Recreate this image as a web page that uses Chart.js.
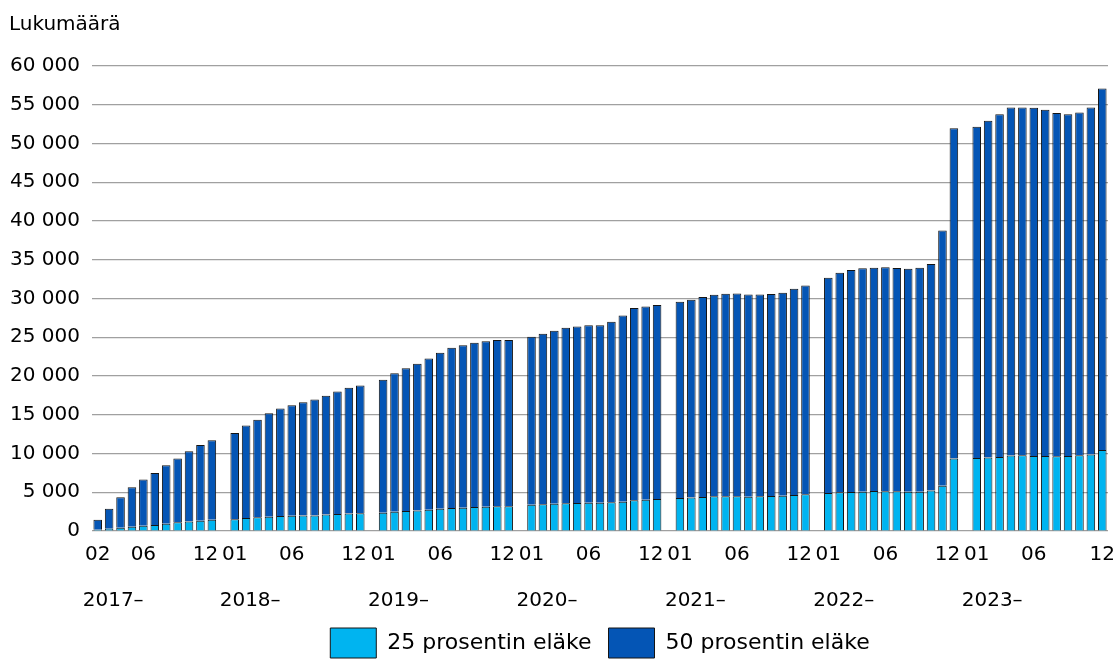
<!DOCTYPE html>
<html><head><meta charset="utf-8">
<script src="https://cdn.jsdelivr.net/npm/chart.js@4"></script>
<style>html,body{margin:0;padding:0;background:#fff}#wrap{width:1118px;height:661px}</style>
</head><body><div id="wrap"><canvas id="c" width="1118" height="661"></canvas></div>
<script>
// ---- Data ----
const years = ['2017', '2018', '2019', '2020', '2021', '2022', '2023'];
const yearTickLabels = ['2017–', '2018–', '2019–', '2020–', '2021–', '2022–', '2023–'];
const months2017 = ['02', '03', '04', '05', '06', '07', '08', '09', '10', '11', '12'];
const monthsFull = ['01', '02', '03', '04', '05', '06', '07', '08', '09', '10', '11', '12'];
const shownMonthTicks = ['06', '12'];

// 25 prosentin eläke
const p25_2017 = [150, 300, 410, 560, 690, 780, 950, 1120, 1220, 1330, 1440];
const p25_2018 = [1530, 1680, 1770, 1850, 1940, 1980, 2000, 2010, 2130, 2200, 2250, 2280];
const p25_2019 = [2360, 2490, 2580, 2660, 2750, 2880, 2970, 3010, 3100, 3140, 3180, 3180];
const p25_2020 = [3400, 3440, 3530, 3570, 3620, 3660, 3660, 3700, 3790, 3960, 4040, 4130];
const p25_2021 = [4260, 4310, 4390, 4470, 4470, 4470, 4430, 4470, 4520, 4560, 4650, 4740];
const p25_2022 = [4910, 4990, 5030, 5080, 5170, 5120, 5120, 5080, 5080, 5210, 5850, 9340];
const p25_2023 = [9430, 9470, 9560, 9730, 9770, 9690, 9690, 9640, 9690, 9770, 9860, 10460];

// 50 prosentin eläke
const p50_2017 = [1310, 2580, 3930, 5070, 5940, 6710, 7530, 8220, 9060, 9780, 10260];
const p50_2018 = [11130, 11920, 12570, 13340, 13860, 14250, 14610, 14950, 15310, 15800, 16230, 16490];
const p50_2019 = [17150, 17870, 18420, 18910, 19510, 20120, 20670, 20970, 21190, 21360, 21450, 21450];
const p50_2020 = [21660, 22010, 22310, 22660, 22780, 22900, 22900, 23300, 24030, 24800, 24940, 25020];
const p50_2021 = [25330, 25530, 25790, 26020, 26150, 26190, 26100, 26060, 26050, 26190, 26620, 26950];
const p50_2022 = [27780, 28340, 28640, 28810, 28810, 28900, 28810, 28770, 28900, 29240, 32910, 42640];
const p50_2023 = [42720, 43450, 44230, 44920, 44880, 44910, 44650, 44310, 44100, 44230, 44790, 46640];

const series25 = [p25_2017, p25_2018, p25_2019, p25_2020, p25_2021, p25_2022, p25_2023];
const series50 = [p50_2017, p50_2018, p50_2019, p50_2020, p50_2021, p50_2022, p50_2023];

// ---- Build category axis (one empty slot between years) ----
const categories = [], monthLabels = [], yearLabels = [], data25 = [], data50 = [];
years.forEach((y, i) => {
  if (i > 0) {
    categories.push('gap ' + years[i - 1] + '/' + y);
    monthLabels.push(''); yearLabels.push('');
    data25.push(null); data50.push(null);
  }
  const ms = i === 0 ? months2017 : monthsFull;
  ms.forEach((m, j) => {
    categories.push(y + '-' + m);
    let lab = '';
    if (j === 0 || shownMonthTicks.includes(m)) lab = m;
    // December before a year gap: nudge left of the following "01"
    if (m === '12' && i < years.length - 1) lab = m + '  ';
    monthLabels.push(lab);
    yearLabels.push(j === 0 ? yearTickLabels[i] : '');
    data25.push(series25[i][j]);
    data50.push(series50[i][j]);
  });
});

const FONT = '"DejaVu Sans", sans-serif';
const fmt = v => String(v).replace(/\B(?=(\d{3})+(?!\d))/g, ' ');

new Chart(document.getElementById('c'), {
  type: 'bar',
  data: {
    labels: categories,
    datasets: [
      { label: '25 prosentin eläke', data: data25, backgroundColor: '#00B4F0', borderColor: '#141414',
        borderWidth: 1, barPercentage: 0.75, categoryPercentage: 1 },
      { label: '50 prosentin eläke', data: data50, backgroundColor: '#0455B5', borderColor: '#141414',
        borderWidth: 1, barPercentage: 0.75, categoryPercentage: 1 }
    ]
  },
  options: {
    responsive: false,
    animation: false,
    layout: { padding: { left: 9, right: 10, top: 0, bottom: -7 } },
    plugins: {
      title: { display: true, text: 'Lukumäärä', align: 'start', color: '#000',
        font: { family: FONT, size: 20, weight: 'normal' }, padding: { top: 13, bottom: 29 } },
      legend: { position: 'bottom', fullSize: false,
        labels: { boxWidth: 46, boxHeight: 30, padding: 17, color: '#000',
          font: { family: FONT, size: 22 } } },
      tooltip: { enabled: false }
    },
    scales: {
      x: {
        stacked: true,
        grid: { display: false, drawTicks: false }, border: { display: false },
        ticks: { autoSkip: false, maxRotation: 0, minRotation: 0, padding: 12, color: '#000',
          font: { family: FONT, size: 20 }, callback: (v, i) => monthLabels[i] },
        afterFit: s => { s.height = 36; s.paddingRight = 0; }
      },
      xYear: {
        type: 'category', position: 'bottom', offset: true,
        grid: { display: false, drawTicks: false }, border: { display: false },
        ticks: { autoSkip: false, maxRotation: 0, minRotation: 0, padding: 24,
          align: 'start', labelOffset: -15,
          color: '#000', font: { family: FONT, size: 20, lineHeight: 1 }, callback: (v, i) => yearLabels[i] },
        afterFit: s => { s.height = 44; s.paddingRight = 0; }
      },
      y: {
        stacked: true, min: 0, max: 60000,
        grid: { color: '#a0a0a0', lineWidth: 1.2, drawTicks: false }, border: { display: false },
        ticks: { stepSize: 5000, padding: 12, color: '#000', font: { family: FONT, size: 20 },
          callback: v => fmt(v) },
        afterFit: s => { s.width = 83; }
      }
    }
  }
});
</script></body></html>
